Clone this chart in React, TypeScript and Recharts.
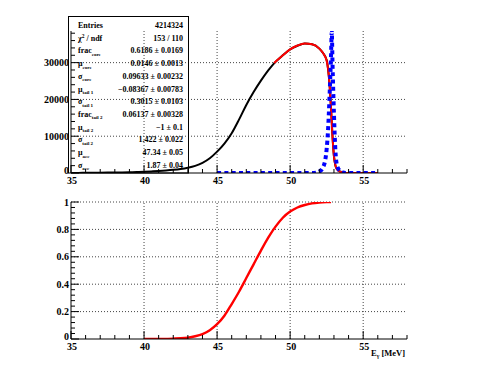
import React from 'react';
import { LineChart, Line, XAxis, YAxis, ReferenceLine } from 'recharts';

// energy spectrum (data points), fit and core component
const BLACK_X = [35, 35.5, 36, 36.5, 37, 37.5, 38, 38.5, 39, 39.5, 40, 40.5, 41, 41.5, 42, 42.5, 43, 43.5, 44, 44.5, 45, 45.5, 46, 46.5, 47, 47.5, 48, 48.5, 49, 49.5, 50, 50.5, 51, 51.5, 52, 52.25, 52.5, 52.6, 52.7, 52.8, 52.9, 53, 53.1, 53.2, 53.4, 53.7, 54];
const BLACK_Y = [20, 30, 45, 60, 80, 105, 135, 170, 215, 270, 340, 430, 540, 680, 860, 1100, 1450, 1950, 2750, 4000, 5800, 8000, 10800, 14500, 18500, 22000, 25100, 27900, 30200, 32000, 33600, 34600, 35200, 35000, 33800, 32600, 30700, 28200, 24000, 17500, 10000, 4500, 2000, 1100, 450, 100, 0];

const RED_X = [48.9, 49.5, 50, 50.5, 51, 51.5, 52, 52.25, 52.5, 52.6, 52.7, 52.8, 52.9, 53, 53.1, 53.2, 53.4, 53.7, 54, 56];
const RED_Y = [29900, 32000, 33600, 34650, 35200, 35000, 33800, 32600, 30500, 28200, 24000, 17500, 10000, 4600, 2100, 1000, 400, 100, 20, 0];

const BLUE_X = [45, 51.5, 51.8, 52, 52.2, 52.4, 52.5, 52.6, 52.7, 52.8, 52.85, 52.9, 53, 53.1, 53.2, 53.4, 53.6, 53.8, 56];
const BLUE_Y = [0, 0, 100, 400, 1200, 3500, 6500, 12000, 21000, 32000, 38400, 30000, 16000, 6000, 2200, 600, 150, 0, 0];

// acceptance curve
const EFF_X = [40, 41, 42, 42.5, 43, 43.5, 44, 44.5, 45, 45.5, 46, 46.5, 47, 47.5, 48, 48.5, 49, 49.5, 50, 50.5, 51, 51.5, 52, 52.5, 52.8];
const EFF_Y = [0, 0.001, 0.003, 0.005, 0.01, 0.02, 0.036, 0.064, 0.108, 0.17, 0.255, 0.345, 0.445, 0.545, 0.645, 0.74, 0.82, 0.885, 0.93, 0.96, 0.978, 0.99, 0.996, 0.999, 1.0];

const X_TICKS = [35, 36, 37, 38, 39, 40, 41, 42, 43, 44, 45, 46, 47, 48, 49, 50, 51, 52, 53, 54, 55, 56, 57, 58];
const X_LABELS = [35, 40, 45, 50, 55];
const X_GRID = [40, 45, 50, 55];

const TOP_Y_TICKS = [0, 2000, 4000, 6000, 8000, 10000, 12000, 14000, 16000, 18000, 20000, 22000, 24000, 26000, 28000, 30000, 32000, 34000, 36000, 38000];
const TOP_Y_LABELS = [0, 10000, 20000, 30000];
const TOP_Y_GRID = [10000, 20000, 30000];

const BOT_Y_TICKS = [0, 0.04, 0.08, 0.12, 0.16, 0.2, 0.24, 0.28, 0.32, 0.36, 0.4, 0.44, 0.48, 0.52, 0.56, 0.6, 0.64, 0.68, 0.72, 0.76, 0.8, 0.84, 0.88, 0.92, 0.96, 1];
const BOT_Y_LABELS = [0, 0.2, 0.4, 0.6, 0.8, 1];
const BOT_Y_GRID = [0.2, 0.4, 0.6, 0.8, 1];

// fit stats box
const STAT_NAMES = ['Entries', 'χ', 'frac', 'μ', 'σ', 'μ', 'σ', 'frac', 'μ', 'σ', 'μ', 'σ'];
const STAT_SUPS = ['', '2', '', '', '', '', '', '', '', '', '', ''];
const STAT_TAILS = ['', ' / ndf', '', '', '', '', '', '', '', '', '', ''];
const STAT_SUBS = ['', '', 'core', 'core', 'core', 'tail 1', 'tail 1', 'tail 2', 'tail 2', 'tail 2', 'acc', 'acc'];
const STAT_VALUES = ['4214324', '153 / 110', '0.6186 ± 0.0169', '0.0146 ± 0.0013', '0.09633 ± 0.00232', '−0.08367 ± 0.00783', '0.3015 ± 0.0103', '0.06137 ± 0.00328', '−1 ± 0.1', '1.422 ± 0.022', '47.34 ± 0.05', '1.87 ± 0.04'];

const FONT = '"Liberation Serif", "DejaVu Serif", serif';
const W = 478;
const LEFT = 71;
const RIGHT = 407;
const TOP_H = 200;
const TOP_BOTTOM = 173; // x axis of upper pad, in chart coords
const BOT_TOP = 190;
const BOT_H = 177;
const BOT_BOTTOM = 149; // x axis of lower pad, in chart coords

const toRows = (xs: number[], ys: number[]) => xs.map((x, i) => ({ x, y: ys[i] }));

const makeXTick = (axisY: number) => (props: any) => {
  const { x, payload } = props;
  const v = payload.value;
  const major = X_LABELS.includes(v);
  return (
    <g>
      <line x1={x} x2={x} y1={axisY} y2={axisY - (major ? 8 : 4)} stroke="#000" />
      {major && (
        <text x={x + 1} y={axisY + 11} textAnchor="middle" fontFamily={FONT} fontWeight="bold" fontSize={10} fill="#000">
          {v}
        </text>
      )}
    </g>
  );
};

const makeYTick = (labels: number[]) => (props: any) => {
  const { y, payload } = props;
  const v = payload.value;
  const major = labels.includes(v);
  return (
    <g>
      <line x1={LEFT} x2={LEFT + (major ? 8 : 4)} y1={y} y2={y} stroke="#000" />
      {major && (
        <text x={LEFT - 2} y={v === 0 ? y + 1 : y + 3.5} textAnchor="end" fontFamily={FONT} fontWeight="bold" fontSize={10} fill="#000">
          {v}
        </text>
      )}
    </g>
  );
};

const grid = { stroke: '#444', strokeDasharray: '1 2', strokeWidth: 1 };

export default function App() {
  const black = toRows(BLACK_X, BLACK_Y);
  const red = toRows(RED_X, RED_Y);
  const blue = toRows(BLUE_X, BLUE_Y);
  const eff = toRows(EFF_X, EFF_Y);

  return (
    <div style={{ position: 'absolute', left: 0, top: 0, width: W, height: 367, background: '#fff' }}>
      <div style={{ position: 'absolute', left: 0, top: 0 }}>
        <LineChart width={W} height={TOP_H} margin={{ top: 31, right: W - RIGHT, bottom: 0, left: 0 }}>
          <XAxis
            type="number"
            dataKey="x"
            domain={[35, 58]}
            ticks={X_TICKS}
            interval={0}
            allowDataOverflow
            height={TOP_H - TOP_BOTTOM}
            tickLine={false}
            tickSize={0}
            tickMargin={0}
            axisLine={{ stroke: '#000' }}
            tick={makeXTick(TOP_BOTTOM)}
          />
          <YAxis
            type="number"
            dataKey="y"
            domain={[0, 38600]}
            ticks={TOP_Y_TICKS}
            interval={0}
            allowDataOverflow
            width={LEFT}
            tickLine={false}
            tickSize={0}
            axisLine={{ stroke: '#000' }}
            tick={makeYTick(TOP_Y_LABELS)}
          />
          {X_GRID.map((v) => (
            <ReferenceLine key={'vx' + v} x={v} {...grid} />
          ))}
          {TOP_Y_GRID.map((v) => (
            <ReferenceLine key={'hy' + v} y={v} {...grid} />
          ))}
          <Line data={black} dataKey="y" type="monotone" stroke="#000" strokeWidth={2} dot={false} isAnimationActive={false} />
          <Line data={red} dataKey="y" type="monotone" stroke="#ff0000" strokeWidth={2} dot={false} isAnimationActive={false} />
          <Line data={blue} dataKey="y" type="monotone" stroke="#0000ff" strokeWidth={4} strokeDasharray="4 3.3" dot={false} isAnimationActive={false} />
        </LineChart>
      </div>

      <div style={{ position: 'absolute', left: 0, top: BOT_TOP }}>
        <LineChart width={W} height={BOT_H} margin={{ top: 12, right: W - RIGHT, bottom: 0, left: 0 }}>
          <XAxis
            type="number"
            dataKey="x"
            domain={[35, 58]}
            ticks={X_TICKS}
            interval={0}
            allowDataOverflow
            height={BOT_H - BOT_BOTTOM}
            tickLine={false}
            tickSize={0}
            tickMargin={0}
            axisLine={{ stroke: '#000' }}
            tick={makeXTick(BOT_BOTTOM)}
          />
          <YAxis
            type="number"
            dataKey="y"
            domain={[0, 1]}
            ticks={BOT_Y_TICKS}
            interval={0}
            allowDataOverflow
            width={LEFT}
            tickLine={false}
            tickSize={0}
            axisLine={{ stroke: '#000' }}
            tick={makeYTick(BOT_Y_LABELS)}
          />
          {X_GRID.map((v) => (
            <ReferenceLine key={'bvx' + v} x={v} {...grid} />
          ))}
          {BOT_Y_GRID.map((v) => (
            <ReferenceLine key={'bhy' + v} y={v} {...grid} />
          ))}
          <Line data={eff} dataKey="y" type="monotone" stroke="#ff0000" strokeWidth={2.4} dot={false} isAnimationActive={false} />
        </LineChart>
      </div>

      {/* stats box (transparent, like ROOT) and x axis title */}
      <svg width={W} height={367} style={{ position: 'absolute', left: 0, top: 0, pointerEvents: 'none' }}>
        <rect x={68.5} y={16.5} width={120} height={156.5} fill="none" stroke="#000" strokeWidth={1} />
        {STAT_NAMES.map((name, i) => {
          const y = 28 + i * 12.7;
          return (
            <g key={i} fontFamily={FONT} fontWeight="bold" fill="#000">
              <text x={78} y={y} fontSize={8}>
                {name}
                {STAT_SUPS[i] && (
                  <tspan fontSize={5.5} dy={-3}>
                    {STAT_SUPS[i]}
                  </tspan>
                )}
                {STAT_TAILS[i] && <tspan dy={STAT_SUPS[i] ? 3 : 0}>{STAT_TAILS[i]}</tspan>}
                {STAT_SUBS[i] && (
                  <tspan fontSize={5} dy={2.5}>
                    {STAT_SUBS[i]}
                  </tspan>
                )}
              </text>
              <text x={183} y={y} fontSize={8} textAnchor="end">
                {STAT_VALUES[i]}
              </text>
            </g>
          );
        })}
        <text x={RIGHT - 2} y={356} textAnchor="end" fontFamily={FONT} fontWeight="bold" fontSize={8.5} fill="#000">
          E
          <tspan fontSize={5.5} dy={2}>γ</tspan>
          <tspan dy={-2}> [MeV]</tspan>
        </text>
      </svg>
    </div>
  );
}
